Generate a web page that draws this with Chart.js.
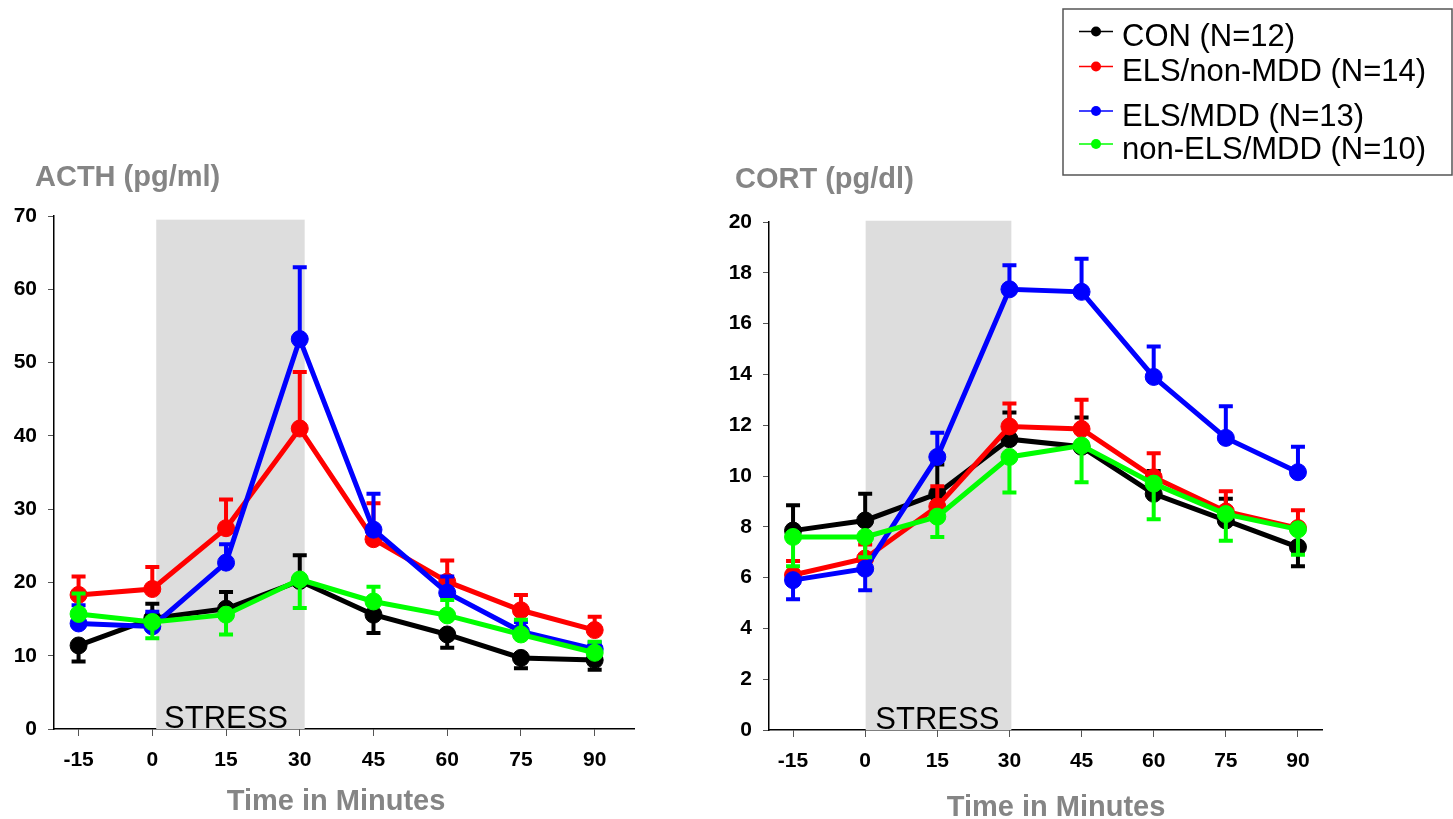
<!DOCTYPE html>
<html>
<head>
<meta charset="utf-8">
<script src="https://cdn.jsdelivr.net/npm/chart.js@4/dist/chart.umd.min.js"></script>
<style>
  body { margin: 0; background: #fff; width: 1453px; height: 819px; overflow: hidden; position: relative; }
  canvas { position: absolute; top: 0; }
</style>
</head>
<body>
<canvas id="acth" width="700" height="819" style="left:0"></canvas>
<canvas id="cort" width="753" height="819" style="left:700px"></canvas>
<script>
// tempos de coleta (minutos)
const minutes = [-15, 0, 15, 30, 45, 60, 75, 90];
const groupLabels = ['CON (N=12)', 'ELS/non-MDD (N=14)', 'ELS/MDD (N=13)', 'non-ELS/MDD (N=10)'];

// ACTH (pg/ml) - médias e extremidade da barra de erro
const acthCon     = [11.4, 15.1, 16.4, 20.2, 15.6, 12.9, 9.7, 9.4];
const acthConErr  = [9.2, 17.1, 18.7, 23.7, 13.1, 11.1, 8.3, 8.1];
const acthEls     = [18.3, 19.1, 27.4, 41.0, 25.9, 20.1, 16.2, 13.5];
const acthElsErr  = [20.8, 22.1, 31.3, 48.7, 30.8, 23.0, 18.3, 15.3];
const acthMdd     = [14.4, 14.0, 22.7, 53.2, 27.2, 18.6, 13.3, 10.9];
const acthMddErr  = [16.9, 16.0, 25.2, 63.0, 32.1, 20.8, 14.6, 11.8];
const acthNon     = [15.7, 14.6, 15.6, 20.4, 17.4, 15.5, 12.9, 10.4];
const acthNonErr  = [18.5, 12.4, 12.9, 16.5, 19.4, 17.6, 14.9, 11.9];

// CORT (pg/dl)
const cortCon     = [7.85, 8.25, 9.3, 11.45, 11.15, 9.3, 8.25, 7.2];
const cortConErr  = [8.85, 9.3, 10.45, 12.5, 12.3, 10.2, 9.1, 6.45];
const cortEls     = [6.1, 6.75, 8.8, 11.95, 11.85, 9.95, 8.6, 7.95];
const cortElsErr  = [6.65, 7.3, 9.6, 12.85, 13.0, 10.9, 9.4, 8.65];
const cortMdd     = [5.9, 6.35, 10.75, 17.35, 17.25, 13.9, 11.5, 10.15];
const cortMddErr  = [5.15, 5.5, 11.7, 18.3, 18.55, 15.1, 12.75, 11.15];
const cortNon     = [7.6, 7.6, 8.4, 10.75, 11.2, 9.7, 8.5, 7.9];
const cortNonErr  = [6.45, 6.8, 7.6, 9.35, 9.75, 8.3, 7.45, 6.9];

// ticks
const xTicks    = [-15, 0, 15, 30, 45, 60, 75, 90];
const acthTicks = [0, 10, 20, 30, 40, 50, 60, 70];
const cortTicks = [0, 2, 4, 6, 8, 10, 12, 14, 16, 18, 20];

const colors = ['#000000', '#ff0000', '#0000ff', '#00ff00'];
const FONT = '"Liberation Sans", Arial, sans-serif';
const GRAY = '#858585';

// faixa cinza do estresse + textos do painel
const panelDeco = {
  id: 'panelDeco',
  beforeDatasetsDraw(chart, args, o) {
    const ctx = chart.ctx, x = chart.scales.x, y = chart.scales.y;
    const x0 = x.getPixelForValue(o.band[0]);
    const x1 = x.getPixelForValue(o.band[1]);
    const yt = y.getPixelForValue(o.band[2]);
    ctx.save();
    ctx.fillStyle = '#dddddd';
    ctx.fillRect(x0, yt, x1 - x0, y.bottom - yt);
    ctx.fillStyle = '#000';
    ctx.font = '31px ' + FONT;
    ctx.textAlign = 'center';
    ctx.textBaseline = 'alphabetic';
    ctx.fillText('STRESS', x.getPixelForValue(15), y.bottom - 1);
    ctx.restore();
  },
  afterDraw(chart, args, o) {
    const ctx = chart.ctx;
    ctx.save();
    ctx.fillStyle = GRAY;
    ctx.font = 'bold 29px ' + FONT;
    ctx.textBaseline = 'middle';
    ctx.textAlign = 'left';
    ctx.fillText(o.yTitle, o.yTitlePos[0], o.yTitlePos[1]);
    ctx.textAlign = 'center';
    ctx.fillText('Time in Minutes', o.xTitlePos[0], o.xTitlePos[1]);
    ctx.restore();
  }
};

// barras de erro (uma direção por ponto)
const errorBars = {
  id: 'errorBars',
  afterDatasetDraw(chart, args) {
    const ds = chart.data.datasets[args.index];
    if (!ds.errEnd) return;
    const ctx = chart.ctx, y = chart.scales.y;
    ctx.save();
    ctx.strokeStyle = ds.borderColor;
    ctx.lineWidth = 4;
    args.meta.data.forEach((pt, i) => {
      const ye = y.getPixelForValue(ds.errEnd[i]);
      ctx.beginPath();
      ctx.moveTo(pt.x, pt.y);
      ctx.lineTo(pt.x, ye);
      ctx.moveTo(pt.x - 7, ye);
      ctx.lineTo(pt.x + 7, ye);
      ctx.stroke();
    });
    ctx.restore();
  }
};

// legenda em caixa (só no painel da direita)
const legendBox = {
  id: 'legendBox',
  afterDraw(chart, args, o) {
    if (!o.show) return;
    const ctx = chart.ctx;
    ctx.save();
    ctx.strokeStyle = '#555';
    ctx.lineWidth = 1.5;
    ctx.strokeRect(o.left, o.top, o.width, o.height);
    ctx.font = '31px ' + FONT;
    ctx.textBaseline = 'middle';
    ctx.textAlign = 'left';
    chart.data.datasets.forEach((ds, i) => {
      const ty = o.rows[i], ly = ty - 6;
      ctx.strokeStyle = ds.borderColor;
      ctx.lineWidth = 1.5;
      ctx.beginPath();
      ctx.moveTo(o.left + 16, ly);
      ctx.lineTo(o.left + 50, ly);
      ctx.stroke();
      ctx.fillStyle = ds.borderColor;
      ctx.beginPath();
      ctx.arc(o.left + 33, ly, 5, 0, Math.PI * 2);
      ctx.fill();
      ctx.fillStyle = '#000';
      ctx.fillText(ds.label, o.left + 59, ty);
    });
    ctx.restore();
  }
};

function serie(i, vals, errs) {
  return {
    label: groupLabels[i],
    data: minutes.map((m, k) => ({ x: m, y: vals[k] })),
    errEnd: errs,
    borderColor: colors[i],
    backgroundColor: colors[i],
    borderWidth: 5,
    pointRadius: 8.5,
    pointBorderWidth: 1,
    pointHoverRadius: 8.5,
    tension: 0,
    order: 4 - i
  };
}

function makeChart(id, sets, yTicks, cfg) {
  return new Chart(document.getElementById(id), {
    type: 'line',
    data: { datasets: sets },
    options: {
      responsive: false,
      animation: false,
      layout: { padding: { top: cfg.top, right: cfg.right, left: 0, bottom: 0 } },
      scales: {
        x: {
          type: 'linear',
          min: cfg.xMin, max: cfg.xMax,
          afterBuildTicks: s => { s.ticks = xTicks.map(v => ({ value: v })); },
          afterFit: s => { s.height = cfg.xHeight; },
          grid: { drawOnChartArea: false, drawTicks: true, tickLength: 7, tickColor: '#555', tickWidth: 1 },
          border: { display: true, color: '#000', width: 1.5 },
          ticks: { color: '#000', padding: 12, font: { family: FONT, size: 21, weight: 'bold' }, maxRotation: 0 }
        },
        y: {
          min: 0, max: yTicks[yTicks.length - 1],
          afterBuildTicks: s => { s.ticks = yTicks.map(v => ({ value: v })); },
          afterFit: s => { s.width = cfg.yWidth; },
          grid: { drawOnChartArea: false, drawTicks: true, tickLength: 6, tickColor: '#555', tickWidth: 1 },
          border: { display: true, color: '#000', width: 1.5 },
          ticks: { color: '#000', padding: 11, font: { family: FONT, size: 21, weight: 'bold' } }
        }
      },
      plugins: {
        legend: { display: false },
        tooltip: { enabled: false },
        panelDeco: { band: cfg.band, yTitle: cfg.yTitle, yTitlePos: cfg.yTitlePos, xTitlePos: cfg.xTitlePos },
        legendBox: cfg.legend
      }
    },
    plugins: [panelDeco, errorBars, legendBox]
  });
}

makeChart('acth', [
  serie(0, acthCon, acthConErr),
  serie(1, acthEls, acthElsErr),
  serie(2, acthMdd, acthMddErr),
  serie(3, acthNon, acthNonErr)
], acthTicks, {
  top: 216, right: 66, xHeight: 90, yWidth: 54, xMin: -20, xMax: 98,
  band: [0.8, 31, 69.5],
  yTitle: 'ACTH (pg/ml)', yTitlePos: [35, 178], xTitlePos: [336, 802],
  legend: { show: false }
});

makeChart('cort', [
  serie(0, cortCon, cortConErr),
  serie(1, cortEls, cortElsErr),
  serie(2, cortMdd, cortMddErr),
  serie(3, cortNon, cortNonErr)
], cortTicks, {
  top: 222, right: 131, xHeight: 89, yWidth: 69, xMin: -20, xMax: 95,
  band: [0.1, 30.4, 20.05],
  yTitle: 'CORT (pg/dl)', yTitlePos: [35, 180], xTitlePos: [356, 808],
  legend: { show: true, left: 363, top: 9, width: 389, height: 166, rows: [37.5, 72.5, 117, 150] }
});
</script>
</body>
</html>
